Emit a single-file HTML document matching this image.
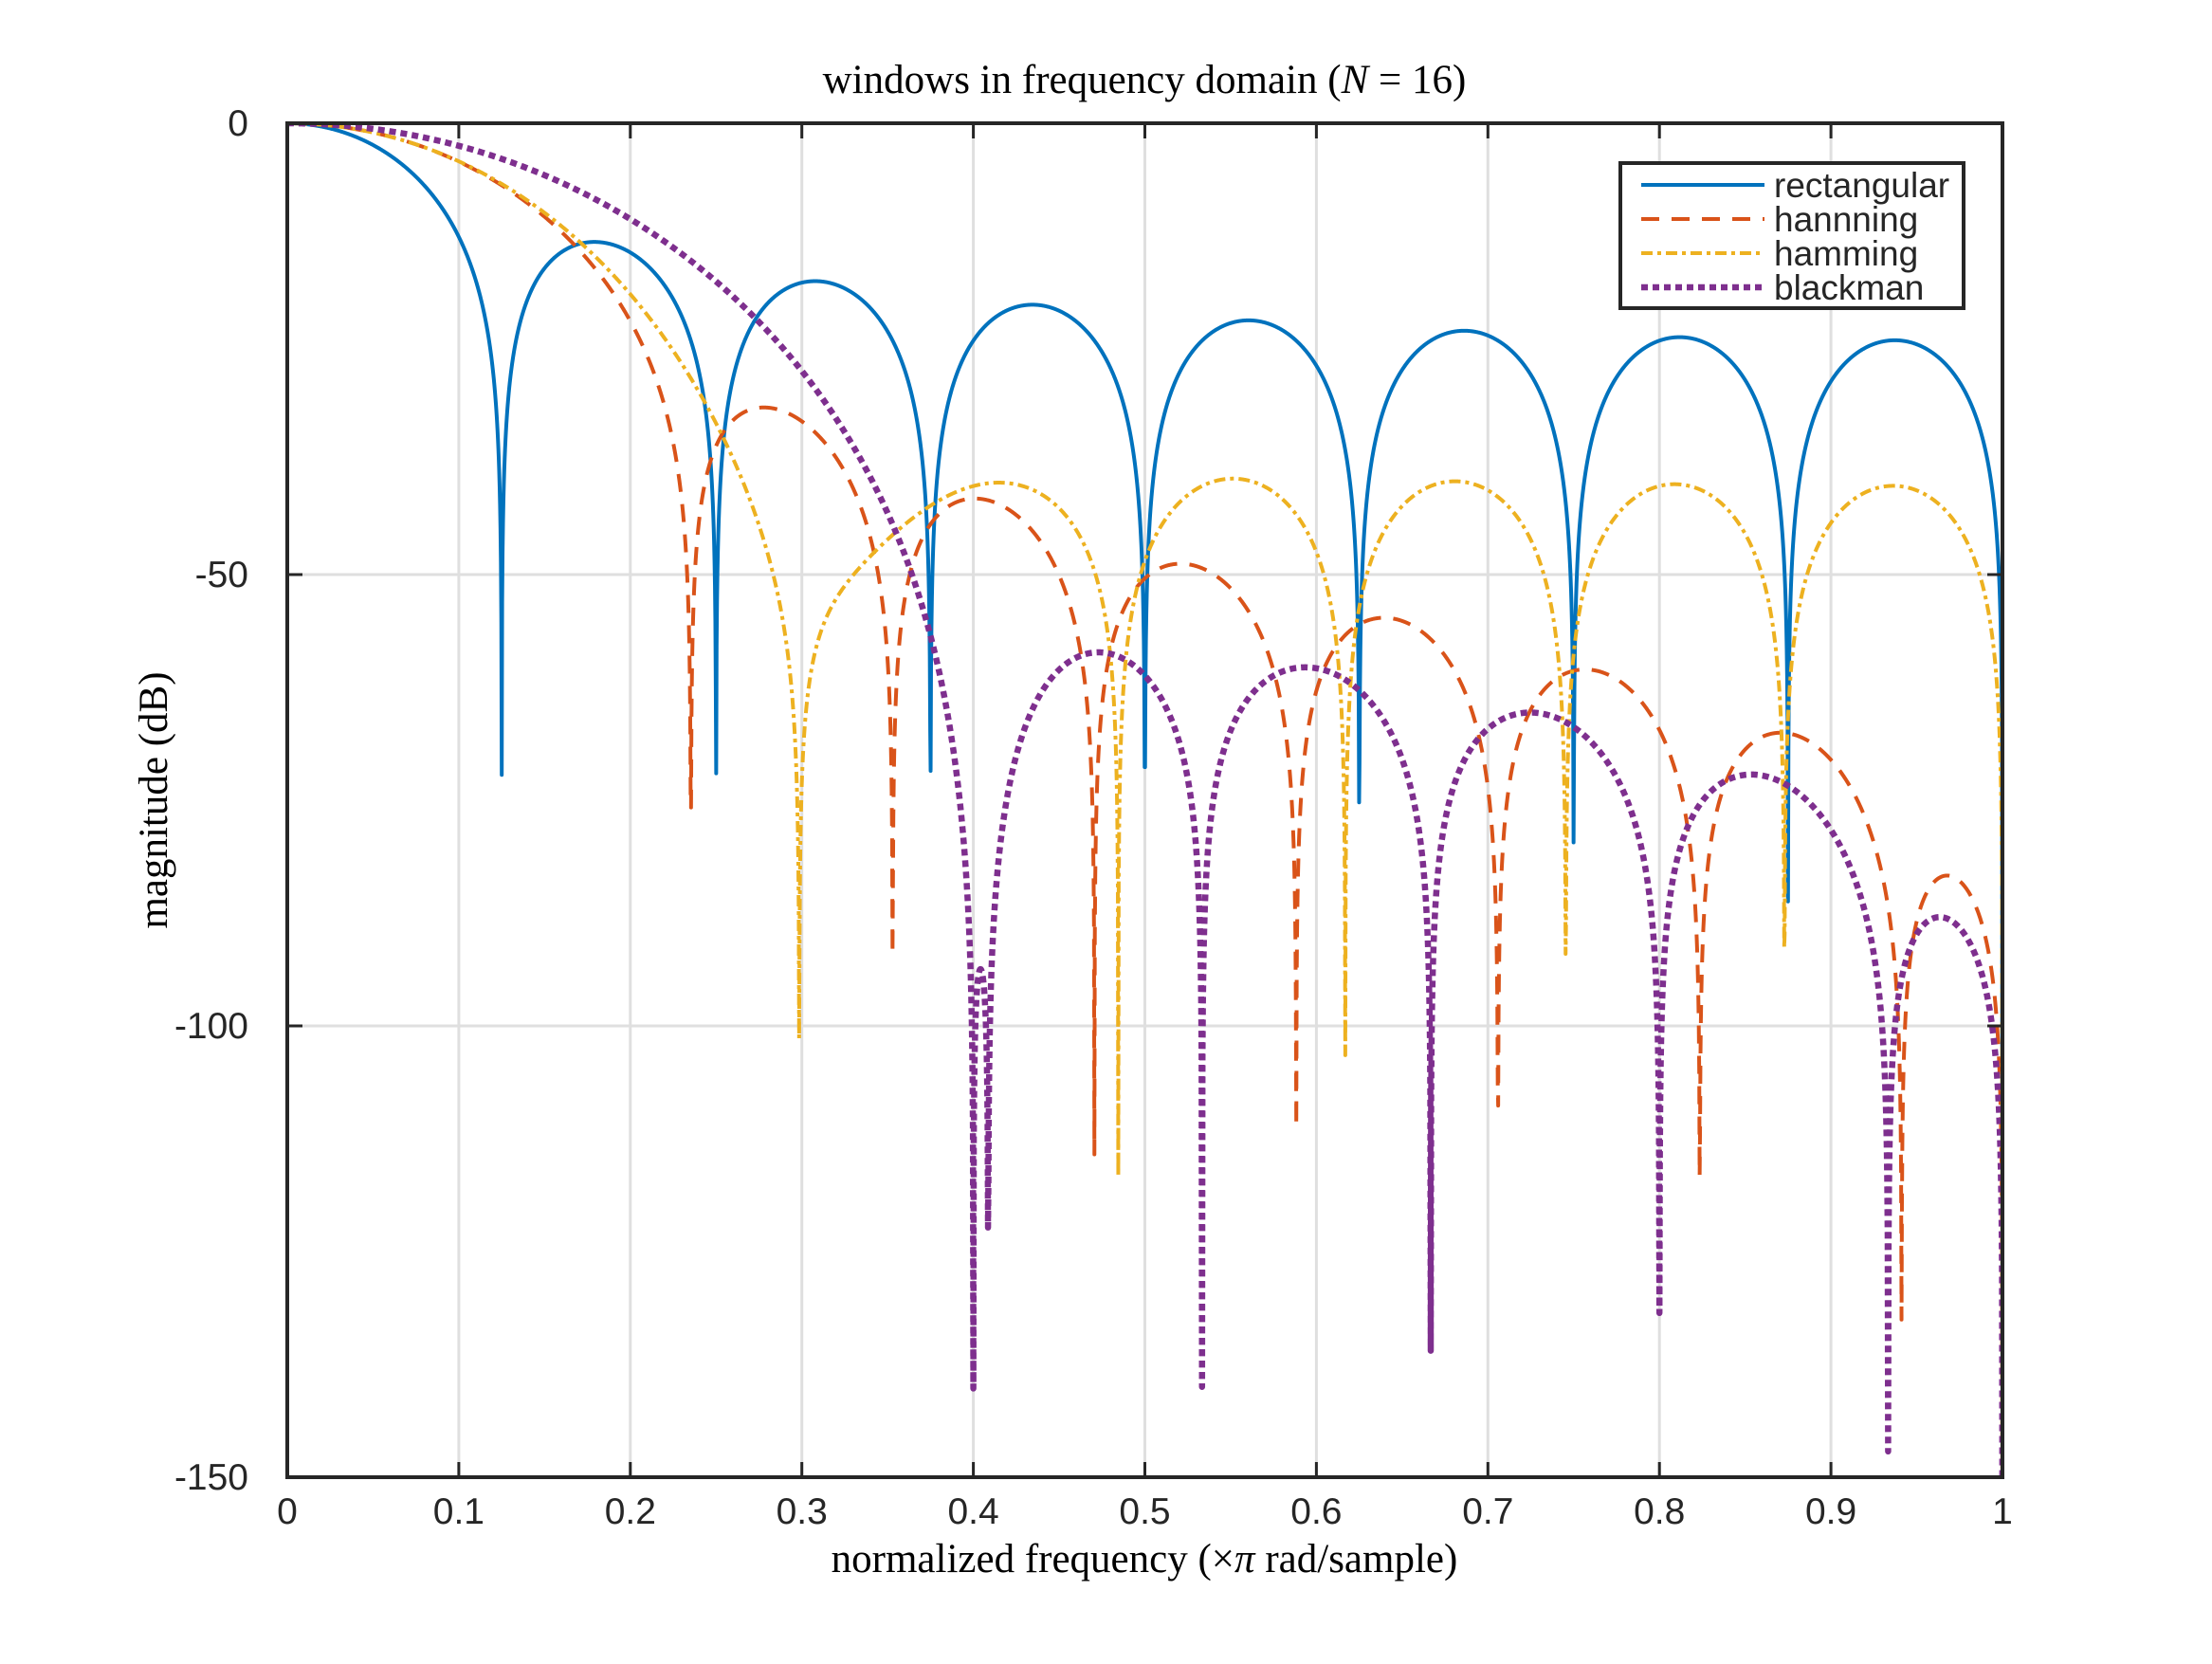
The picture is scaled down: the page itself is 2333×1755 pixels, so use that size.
<!DOCTYPE html>
<html><head><meta charset="utf-8"><style>
html,body{margin:0;padding:0;background:#fff}
svg text{font-family:"Liberation Sans",sans-serif;fill:#262626}
.serif{font-family:"Liberation Serif",serif !important;fill:#000}
</style></head><body>
<svg id="chart" width="2333" height="1750" viewBox="0 0 2333 1750" xmlns="http://www.w3.org/2000/svg">
<rect x="0" y="0" width="2333" height="1750" fill="#fff"/>
<defs><clipPath id="pc"><rect x="303" y="130" width="1809" height="1428"/></clipPath></defs>
<g id="grid"></g>
<g id="series" clip-path="url(#pc)"></g>
<g id="axes"></g>
<text class="serif" x="1207" y="98" text-anchor="middle" font-size="43">windows in frequency domain (<tspan font-style="italic">N</tspan> = 16)</text>
<text class="serif" x="1207" y="1658" text-anchor="middle" font-size="43">normalized frequency (×<tspan font-style="italic">π</tspan> rad/sample)</text>
<text class="serif" transform="translate(176,844) rotate(-90)" text-anchor="middle" font-size="43">magnitude (dB)</text>
<g id="legend">
<rect x="1709" y="172" width="362" height="153" fill="#fff" stroke="#262626" stroke-width="4"/>
</g>
</svg>
<script>
// window coefficients (N = 16)
const rectangular = [1,1,1,1,1,1,1,1,1,1,1,1,1,1,1,1];
const hanning = [0.033764,0.130496,0.277131,0.453866,0.636831,0.801317,0.925109,0.991487,0.991487,0.925109,0.801317,0.636831,0.453866,0.277131,0.130496,0.033764];
const hamming = [0.08,0.119769,0.2322,0.397852,0.588083,0.77,0.912148,0.989948,0.989948,0.912148,0.77,0.588083,0.397852,0.2322,0.119769,0.08];
const blackman = [0,0.016757,0.077072,0.20077,0.394012,0.63,0.84923,0.982158,0.982158,0.84923,0.63,0.394012,0.20077,0.077072,0.016757,0];
const seriesNames = ["rectangular","hannning","hamming","blackman"];
const xTicks = [0,0.1,0.2,0.3,0.4,0.5,0.6,0.7,0.8,0.9,1];
const xTickLabels = ["0","0.1","0.2","0.3","0.4","0.5","0.6","0.7","0.8","0.9","1"];
const yTicks = [0,-50,-100,-150];
const yTickLabels = ["0","-50","-100","-150"];

const NS="http://www.w3.org/2000/svg";
const X0=303,X1=2112,Y0=130,Y1=1558,YMIN=-150,YMAX=0;
const xs=f=>X0+(f-0)/(1-0)*(X1-X0);
const ys=v=>Y0+(YMAX-v)/(YMAX-YMIN)*(Y1-Y0);
function mk(tag,attrs,parent){const e=document.createElementNS(NS,tag);for(const k in attrs)e.setAttribute(k,attrs[k]);parent.appendChild(e);return e;}
const grid=document.getElementById('grid'),axes=document.getElementById('axes'),series=document.getElementById('series'),legend=document.getElementById('legend');

xTicks.forEach((t,i)=>{
  const g=mk('line',{x1:xs(t),x2:xs(t),y1:Y0,y2:Y1,stroke:'#dfdfdf','stroke-width':3},grid);
  
  
  const tk=mk('path',{d:`M${xs(t)},${Y1}v-16M${xs(t)},${Y0}v16`,stroke:'#262626','stroke-width':3},axes);
  
  
  const tx=mk('text',{x:xs(t),y:1607,'text-anchor':'middle','font-size':39},axes);
  tx.textContent=xTickLabels[i];
  
  
});
yTicks.forEach((t,i)=>{
  const g=mk('line',{x1:X0,x2:X1,y1:ys(t),y2:ys(t),stroke:'#dfdfdf','stroke-width':3},grid);
  
  
  const tk=mk('path',{d:`M${X0},${ys(t)}h16M${X1},${ys(t)}h-16`,stroke:'#262626','stroke-width':3},axes);
  
  
  const tx=mk('text',{x:262,y:ys(t)+13,'text-anchor':'end','font-size':39},axes);
  tx.textContent=yTickLabels[i];
  
  
});
const box=mk('rect',{x:X0,y:Y0,width:X1-X0,height:Y1-Y0,fill:'none',stroke:'#262626','stroke-width':4},axes);



function spectrum(w){
  const M=4095,out=[];let s=0;w.forEach(v=>s+=v);
  for(let i=0;i<=M;i++){
    const f=i/M,om=Math.PI*f;let re=0,im=0;
    for(let n=0;n<w.length;n++){re+=w[n]*Math.cos(om*n);im-=w[n]*Math.sin(om*n);}
    const m=Math.sqrt(re*re+im*im)/s;
    out.push([f,20*Math.log10(Math.max(m,1e-9))]);
  }
  return out;
}
const styles=[
 {w:rectangular,c:'#0072BD',sw:4,da:''},
 {w:hanning,c:'#D95319',sw:4,da:'19 13'},
 {w:hamming,c:'#EDB120',sw:4,da:'12 5 4 5'},
 {w:blackman,c:'#7E2F8E',sw:6.5,da:'7 5'}
];
styles.forEach((st,k)=>{
  const pts=spectrum(st.w);
  let d='';pts.forEach((p,i)=>{d+=(i?'L':'M')+xs(p[0]).toFixed(2)+','+ys(Math.max(p[1],-160)).toFixed(2);});
  const p=mk('path',{d:d,fill:'none',stroke:st.c,'stroke-width':st.sw,'stroke-dasharray':st.da,'stroke-linejoin':'round'},series);
  
  
  const ly=195+k*36;
  const ll=mk('line',{x1:1731,x2:1861,y1:ly,y2:ly,stroke:st.c,'stroke-width':st.sw,'stroke-dasharray':st.da},legend);
  
  
  const lt=mk('text',{x:1871,y:ly+13,'font-size':37,fill:'#000'},legend);
  lt.textContent=seriesNames[k];
  
  
});
</script>
</body></html>
